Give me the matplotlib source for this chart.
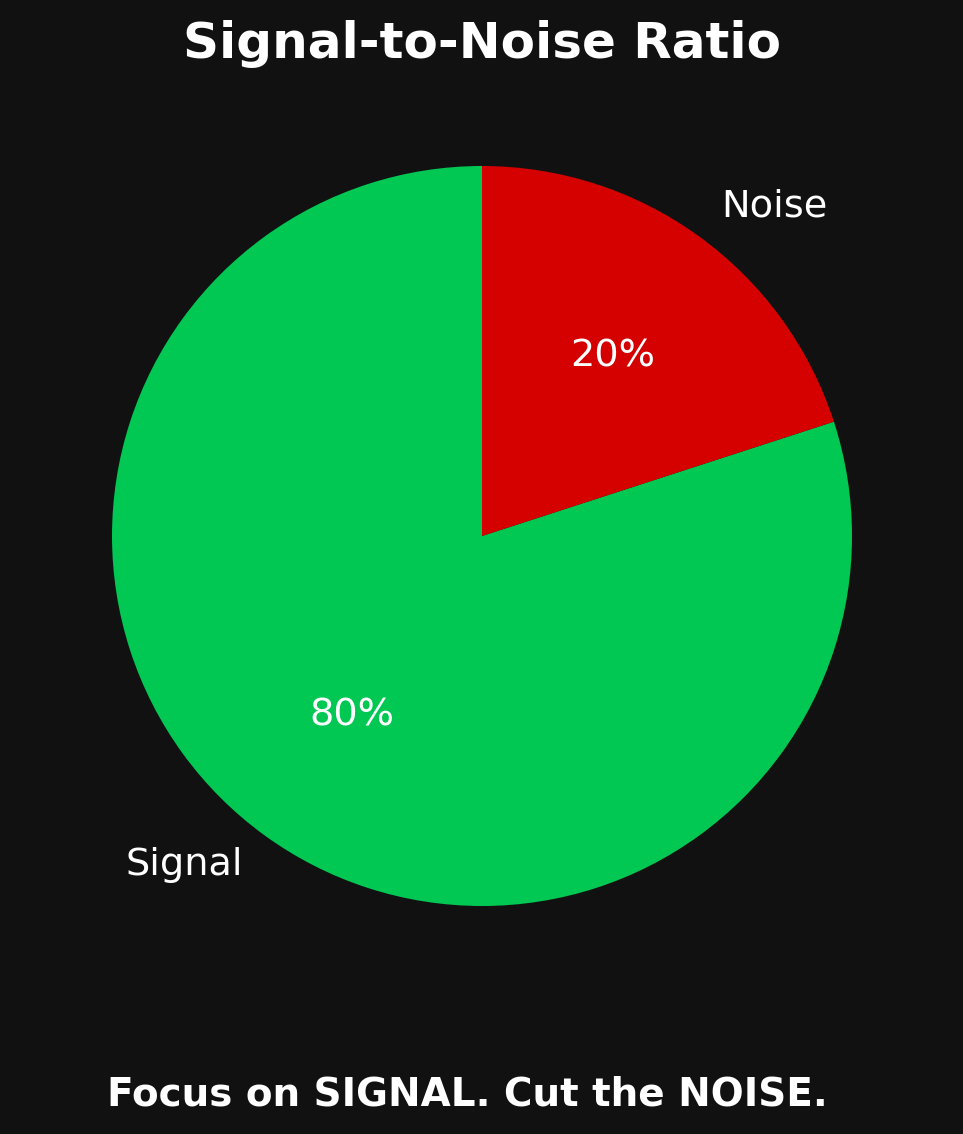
import matplotlib
matplotlib.use("Agg")
import matplotlib.pyplot as plt

labels = ["Signal", "Noise"]
shares = [80, 20]
colors = ["#00c853", "#d50000"]

bg = "#111111"

fig = plt.figure(figsize=(9.63, 11.34), dpi=100, facecolor=bg)
# pie centre ~ (482, 536) px from top, radius ~370 px
r = 370
ax = fig.add_axes([(482 - r) / 963, (1134 - 536 - r) / 1134, 2 * r / 963, 2 * r / 1134])
ax.set_facecolor(bg)

wedges, texts, autotexts = ax.pie(
    shares, labels=labels, colors=colors, autopct="%1.0f%%",
    startangle=90, textprops={"color": "white", "fontsize": 27.5},
)
ax.set_xlim(-1, 1)
ax.set_ylim(-1, 1)
ax.set_aspect("equal")
ax.axis("off")

fig.text(0.5, 1 - 44 / 1134, "Signal-to-Noise Ratio", ha="center", va="center",
         color="white", fontsize=36, fontweight="bold")
fig.text(467.5 / 963, 1 - 1094 / 1134, "Focus on SIGNAL. Cut the NOISE.", ha="center", va="center",
         color="white", fontsize=28, fontweight="bold")

fig.savefig("out.png", dpi=100, facecolor=bg)
